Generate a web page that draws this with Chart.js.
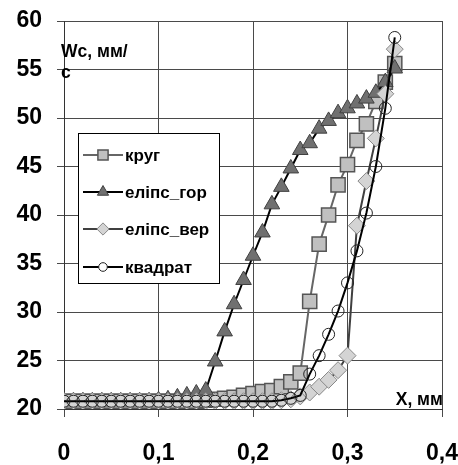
<!DOCTYPE html>
<html lang="uk">
<head>
<meta charset="UTF-8">
<title>Wc від X</title>
<script src="https://cdn.jsdelivr.net/npm/chart.js"></script>
<style>
  html, body { margin: 0; padding: 0; background: #fff; }
</style>
</head>
<body>
<canvas id="wcChart" width="458" height="465"></canvas>
<script>
// x, мм
const xVals = [0, 0.01, 0.02, 0.03, 0.04, 0.05, 0.06, 0.07, 0.08, 0.09,
               0.10, 0.11, 0.12, 0.13, 0.14, 0.15, 0.16, 0.17, 0.18, 0.19,
               0.20, 0.21, 0.22, 0.23, 0.24, 0.25, 0.26, 0.27, 0.28, 0.29,
               0.30, 0.31, 0.32, 0.33, 0.34, 0.35];

// Wc, мм/с
const krug = [20.8, 20.8, 20.8, 20.8, 20.8, 20.8, 20.8, 20.8, 20.8, 20.8,
              20.8, 20.8, 20.8, 20.8, 20.8, 20.9, 21.0, 21.1, 21.2, 21.4,
              21.6, 21.8, 21.9, 22.3, 22.8, 23.7, 31.1, 37.0, 40.0, 43.1,
              45.2, 47.7, 49.4, 51.7, 53.7, 55.6];
const elipsGor = [20.8, 20.8, 20.8, 20.8, 20.8, 20.8, 20.8, 20.8, 20.8, 20.8,
                  20.9, 21.0, 21.2, 21.4, 21.6, 21.9, 24.9, 28.0, 30.8, 33.3,
                  35.8, 38.2, 41.1, 42.9, 44.8, 46.7, 47.4, 48.9, 49.7, 50.5,
                  51.0, 51.5, 52.0, 52.6, 53.7, 55.1];
const elipsVer = [20.8, 20.8, 20.8, 20.8, 20.8, 20.8, 20.8, 20.8, 20.8, 20.8,
                  20.8, 20.8, 20.8, 20.8, 20.8, 20.8, 20.8, 20.8, 20.8, 20.8,
                  20.8, 20.8, 20.8, 20.9, 21.0, 21.3, 21.7, 22.3, 23.0, 24.0,
                  25.5, 38.9, 43.5, 47.9, 52.5, 57.1];
const kvadrat = [20.8, 20.8, 20.8, 20.8, 20.8, 20.8, 20.8, 20.8, 20.8, 20.8,
                 20.8, 20.8, 20.8, 20.8, 20.8, 20.8, 20.8, 20.8, 20.8, 20.8,
                 20.8, 20.8, 20.8, 20.9, 21.1, 21.4, 23.6, 25.5, 27.7, 30.1,
                 33.0, 36.3, 40.2, 45.0, 51.0, 58.3];

const xTicks = [0, 0.1, 0.2, 0.3, 0.4];
const seriesNames = ['круг', 'еліпс_гор', 'еліпс_вер', 'квадрат'];

const FONT = '"Liberation Sans", Arial, sans-serif';

function pts(ys) {
    return xVals.map((x, i) => ({ x: x, y: ys[i] }));
}

const datasets = [
    { label: seriesNames[0], data: pts(krug), order: 3,
      borderColor: '#666666', borderWidth: 2,
      pointStyle: 'rect', pointRadius: 10, pointBackgroundColor: '#c0c0c0',
      pointBorderColor: '#555555', pointBorderWidth: 1.5 },
    { label: seriesNames[1], data: pts(elipsGor), order: 2,
      borderColor: '#000000', borderWidth: 2,
      pointStyle: 'triangle', pointRadius: 9, pointBackgroundColor: '#707070',
      pointBorderColor: '#404040', pointBorderWidth: 1 },
    { label: seriesNames[2], data: pts(elipsVer), order: 1,
      borderColor: '#404040', borderWidth: 2,
      pointStyle: 'rectRot', pointRadius: 8.5, pointBackgroundColor: '#d4d4d4',
      pointBorderColor: '#888888', pointBorderWidth: 1 },
    { label: seriesNames[3], data: pts(kvadrat), order: 0,
      borderColor: '#000000', borderWidth: 2,
      pointStyle: 'circle', pointRadius: 6, pointBackgroundColor: 'rgba(255,255,255,0)',
      pointBorderColor: '#222222', pointBorderWidth: 1 }
];

// легенда і підписи осей всередині області графіка
const overlay = {
    id: 'overlay',
    afterDraw(chart) {
        const ctx = chart.ctx;
        ctx.save();
        // підписи осей
        ctx.fillStyle = '#000';
        ctx.font = 'bold 17.5px ' + FONT;
        ctx.textBaseline = 'alphabetic';
        ctx.textAlign = 'left';
        ctx.fillText('Wc, мм/', 61, 57);
        ctx.fillText('с', 61, 78);
        ctx.textAlign = 'right';
        ctx.fillText('X, мм', 443, 405);

        // рамка легенди
        ctx.fillStyle = '#fff';
        ctx.fillRect(78, 133, 141, 150);
        ctx.strokeStyle = '#000';
        ctx.lineWidth = 1;
        ctx.strokeRect(78.5, 133.5, 141, 150);

        const rows = [155, 192, 229, 267];
        chart.data.datasets.forEach((ds, i) => {
            const y = rows[i];
            ctx.strokeStyle = ds.borderColor;
            ctx.lineWidth = 2;
            ctx.beginPath();
            ctx.moveTo(83, y);
            ctx.lineTo(123, y);
            ctx.stroke();
            ctx.fillStyle = ds.pointBackgroundColor === 'rgba(255,255,255,0)' ? '#fff' : ds.pointBackgroundColor;
            ctx.strokeStyle = ds.pointBorderColor;
            ctx.lineWidth = ds.pointBorderWidth;
            Chart.helpers.drawPoint(ctx, {
                pointStyle: ds.pointStyle, radius: ds.pointRadius * 0.72,
                rotation: 0, borderWidth: ds.pointBorderWidth
            }, 103, y);
            ctx.fillStyle = '#000';
            ctx.font = 'bold 17px ' + FONT;
            ctx.textAlign = 'left';
            ctx.textBaseline = 'middle';
            ctx.fillText(ds.label, 125, y + 1);
        });
        ctx.restore();
    }
};

new Chart(document.getElementById('wcChart'), {
    type: 'line',
    data: { datasets: datasets },
    options: {
        responsive: false,
        animation: false,
        layout: { padding: { top: 21, right: 16, left: 0, bottom: 0 } },
        plugins: { legend: { display: false }, tooltip: { enabled: false } },
        elements: { line: { tension: 0 } },
        scales: {
            x: {
                type: 'linear', min: 0, max: 0.4,
                afterBuildTicks: s => { s.ticks = xTicks.map(v => ({ value: v })); },
                afterFit: s => { s.height = 56; s.paddingLeft = 0; s.paddingRight = 0; },
                grid: { color: '#4a4a4a', lineWidth: 1, tickLength: 8 },
                border: { color: '#333', width: 1 },
                ticks: {
                    padding: 23, color: '#000',
                    font: { family: FONT, size: 23, weight: 'bold' },
                    callback: v => String(v).replace('.', ',')
                }
            },
            y: {
                min: 20, max: 60,
                afterFit: s => { s.width = 64; s.paddingTop = 0; s.paddingBottom = 0; },
                grid: { color: '#4a4a4a', lineWidth: 1, tickLength: 7 },
                border: { color: '#333', width: 1 },
                ticks: {
                    stepSize: 5, padding: 15, color: '#000',
                    font: { family: FONT, size: 23, weight: 'bold' }
                }
            }
        }
    },
    plugins: [overlay]
});
</script>
</body>
</html>
